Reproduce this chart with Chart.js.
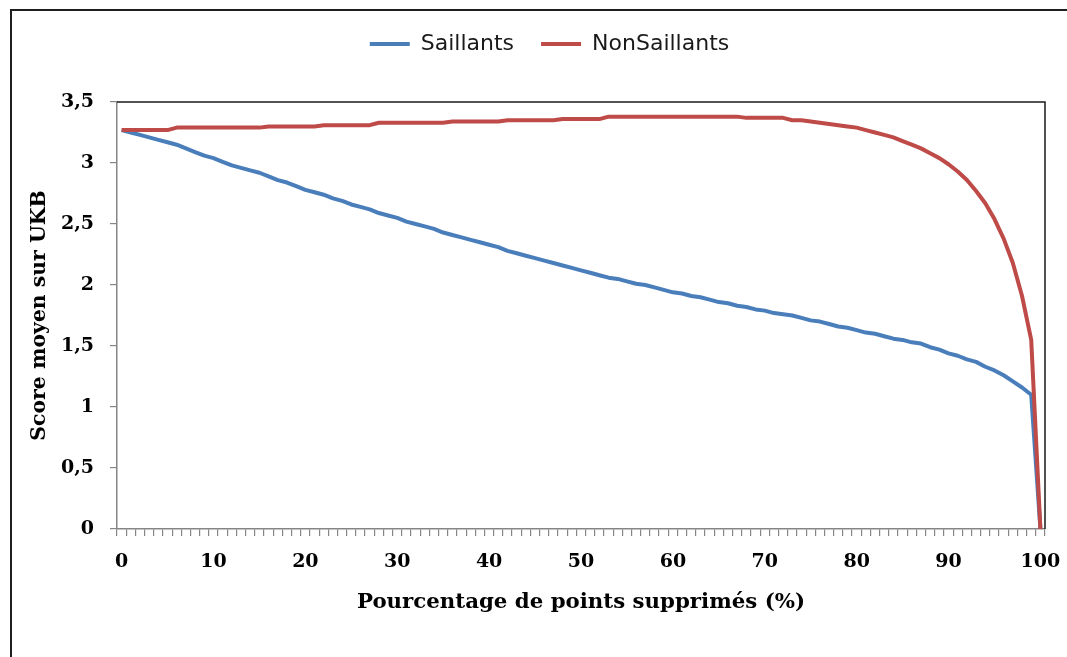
<!DOCTYPE html>
<html lang="fr">
<head>
<meta charset="utf-8">
<title>Score moyen sur UKB</title>
<script src="https://cdn.jsdelivr.net/npm/chart.js@4.4.1/dist/chart.umd.min.js"></script>
<style>
  html, body { margin: 0; padding: 0; background: #fff; overflow: hidden; }
  #zone { position: relative; width: 1067px; height: 657px; }
</style>
</head>
<body>
<div id="zone"><canvas id="graphique" width="1067" height="657"></canvas></div>
<script>
// Pourcentage de points supprimés (catégories de l'axe X)
const pourcentages = [
  '0','1','2','3','4','5','6','7','8','9','10','11','12','13','14','15','16','17','18','19',
  '20','21','22','23','24','25','26','27','28','29','30','31','32','33','34','35','36','37','38','39',
  '40','41','42','43','44','45','46','47','48','49','50','51','52','53','54','55','56','57','58','59',
  '60','61','62','63','64','65','66','67','68','69','70','71','72','73','74','75','76','77','78','79',
  '80','81','82','83','84','85','86','87','88','89','90','91','92','93','94','95','96','97','98','99','100'
];

// Étiquettes affichées sur l'axe X
const etiquettesX = ['0','10','20','30','40','50','60','70','80','90','100'];

// Graduations de l'axe Y
const graduationsY = [0, 0.5, 1, 1.5, 2, 2.5, 3, 3.5];

// Score moyen quand on supprime les points saillants
const saillants = [
  3.27, 3.25, 3.23, 3.21, 3.19, 3.17, 3.15, 3.12, 3.09, 3.06,
  3.04, 3.01, 2.98, 2.96, 2.94, 2.92, 2.89, 2.86, 2.84, 2.81,
  2.78, 2.76, 2.74, 2.71, 2.69, 2.66, 2.64, 2.62, 2.59, 2.57,
  2.55, 2.52, 2.50, 2.48, 2.46, 2.43, 2.41, 2.39, 2.37, 2.35,
  2.33, 2.31, 2.28, 2.26, 2.24, 2.22, 2.20, 2.18, 2.16, 2.14,
  2.12, 2.10, 2.08, 2.06, 2.05, 2.03, 2.01, 2.00, 1.98, 1.96,
  1.94, 1.93, 1.91, 1.90, 1.88, 1.86, 1.85, 1.83, 1.82, 1.80,
  1.79, 1.77, 1.76, 1.75, 1.73, 1.71, 1.70, 1.68, 1.66, 1.65,
  1.63, 1.61, 1.60, 1.58, 1.56, 1.55, 1.53, 1.52, 1.49, 1.47,
  1.44, 1.42, 1.39, 1.37, 1.33, 1.30, 1.26, 1.21, 1.16, 1.10,
  0
];

// Score moyen quand on supprime les points non saillants
const nonSaillants = [
  3.27, 3.27, 3.27, 3.27, 3.27, 3.27, 3.29, 3.29, 3.29, 3.29,
  3.29, 3.29, 3.29, 3.29, 3.29, 3.29, 3.30, 3.30, 3.30, 3.30,
  3.30, 3.30, 3.31, 3.31, 3.31, 3.31, 3.31, 3.31, 3.33, 3.33,
  3.33, 3.33, 3.33, 3.33, 3.33, 3.33, 3.34, 3.34, 3.34, 3.34,
  3.34, 3.34, 3.35, 3.35, 3.35, 3.35, 3.35, 3.35, 3.36, 3.36,
  3.36, 3.36, 3.36, 3.38, 3.38, 3.38, 3.38, 3.38, 3.38, 3.38,
  3.38, 3.38, 3.38, 3.38, 3.38, 3.38, 3.38, 3.38, 3.37, 3.37,
  3.37, 3.37, 3.37, 3.35, 3.35, 3.34, 3.33, 3.32, 3.31, 3.30,
  3.29, 3.27, 3.25, 3.23, 3.21, 3.18, 3.15, 3.12, 3.08, 3.04,
  2.99, 2.93, 2.86, 2.77, 2.67, 2.54, 2.38, 2.18, 1.91, 1.55,
  0
];

const BLEU = '#4A7EBB';
const ROUGE = '#BE4B48';
const GRIS_AXE = '#868686';
const policeSerif = 'DejaVu Serif';

// Cadre extérieur du graphique et bordure haute/droite de la zone de tracé
const cadre = {
  id: 'cadre',
  beforeDraw(chart) {
    const ctx = chart.ctx;
    ctx.save();
    ctx.fillStyle = '#ffffff';
    ctx.fillRect(0, 0, chart.width, chart.height);
    ctx.strokeStyle = '#1e1e1e';
    ctx.lineWidth = 2;
    ctx.strokeRect(11, 10, chart.width + 40, chart.height + 40);
    ctx.restore();
  },
  beforeDatasetsDraw(chart) {
    const { left, top, right, bottom } = chart.chartArea;
    const ctx = chart.ctx;
    ctx.save();
    ctx.strokeStyle = '#1a1a1a';
    ctx.lineWidth = 1.5;
    ctx.beginPath();
    ctx.moveTo(left, top);
    ctx.lineTo(right, top);
    ctx.lineTo(right, bottom);
    ctx.stroke();
    ctx.restore();
  }
};

new Chart(document.getElementById('graphique'), {
  type: 'line',
  data: {
    labels: pourcentages,
    datasets: [
      {
        label: 'Saillants',
        data: saillants,
        borderColor: BLEU,
        backgroundColor: BLEU,
        borderWidth: 4,
        pointRadius: 0,
        tension: 0,
        borderJoinStyle: 'round',
        order: 2
      },
      {
        label: 'NonSaillants',
        data: nonSaillants,
        borderColor: ROUGE,
        backgroundColor: ROUGE,
        borderWidth: 4,
        pointRadius: 0,
        tension: 0,
        borderJoinStyle: 'round',
        order: 1
      }
    ]
  },
  options: {
    responsive: false,
    devicePixelRatio: 1,
    animation: false,
    events: [],
    layout: { padding: { left: 54, right: 22, top: 6, bottom: 0 } },
    plugins: {
      tooltip: { enabled: false },
      legend: {
        position: 'top',
        align: 'center',
        labels: {
          usePointStyle: true,
          pointStyle: 'line',
          pointStyleWidth: 40,
          padding: 27,
          color: '#1a1a1a',
          font: { family: 'DejaVu Sans', size: 22 },
          sort: (a, b) => a.datasetIndex - b.datasetIndex
        }
      },
      // espace vide entre la légende et la zone de tracé
      subtitle: {
        display: true,
        text: '',
        position: 'top',
        weight: 500,
        font: { size: 10, lineHeight: 1 },
        padding: { top: 27, bottom: 0 }
      }
    },
    scales: {
      x: {
        type: 'category',
        offset: true,
        afterFit(scale) {
          scale.height = 128;
          scale.paddingLeft = 0;
          scale.paddingRight = 0;
        },
        grid: {
          offset: true,
          drawOnChartArea: false,
          drawTicks: true,
          tickLength: 7,
          color: GRIS_AXE,
          lineWidth: 1.2
        },
        border: { display: true, color: GRIS_AXE, width: 1.5 },
        ticks: {
          autoSkip: false,
          maxRotation: 0,
          minRotation: 0,
          padding: 15,
          color: '#000',
          font: { family: policeSerif, weight: 'bold', size: 19 },
          callback(value, index) {
            const lib = pourcentages[index];
            return etiquettesX.includes(lib) ? lib : '';
          }
        },
        title: {
          display: true,
          text: 'Pourcentage de points supprimés (%)',
          color: '#000',
          font: { family: policeSerif, weight: 'bold', size: 21.3 },
          padding: { top: 0, bottom: 42 }
        }
      },
      y: {
        min: 0,
        max: 3.5,
        afterFit(scale) { scale.width = 63; },
        afterBuildTicks(scale) {
          scale.ticks = graduationsY.map(v => ({ value: v }));
        },
        grid: {
          drawOnChartArea: false,
          drawTicks: true,
          tickLength: 7,
          color: GRIS_AXE,
          lineWidth: 1.2
        },
        border: { display: true, color: GRIS_AXE, width: 1.5 },
        ticks: {
          padding: 16,
          color: '#000',
          font: { family: policeSerif, weight: 'bold', size: 19 },
          callback(value) { return String(value).replace('.', ','); }
        },
        title: {
          display: true,
          text: 'Score moyen sur UKB',
          color: '#000',
          font: { family: policeSerif, weight: 'bold', size: 20.4 },
          padding: { top: -27, bottom: 0 }
        }
      }
    }
  },
  plugins: [cadre]
});
</script>
</body>
</html>
